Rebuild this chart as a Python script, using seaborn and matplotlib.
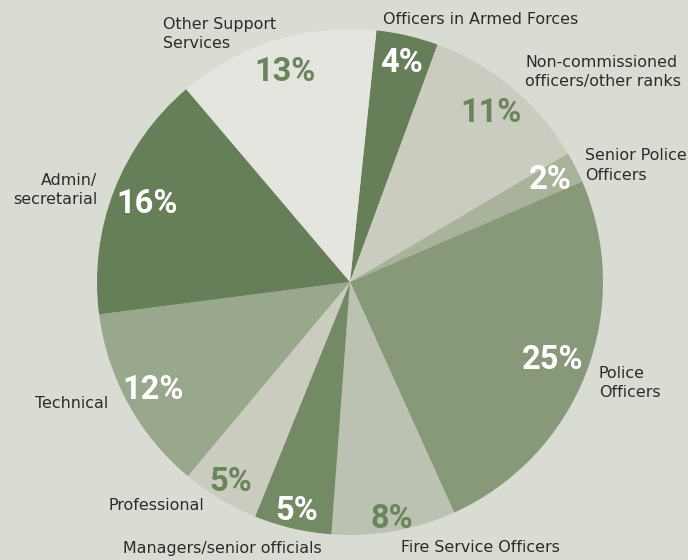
import matplotlib

matplotlib.use("Agg")
import matplotlib.pyplot as plt
import numpy as np
import seaborn as sns

# shares by occupation group (%), clockwise from 12 o'clock
categories = [
    "Officers in Armed Forces",
    "Non-commissioned\nofficers/other ranks",
    "Senior Police\nOfficers",
    "Police\nOfficers",
    "Fire Service Officers",
    "Managers/senior officials",
    "Professional",
    "Technical",
    "Admin/\nsecretarial",
    "Other Support\nServices",
]
shares = [4, 11, 2, 25, 8, 5, 5, 12, 16, 13]

slice_colors = ["#667f58", "#c9ccbe", "#a9b39b", "#879979", "#bcc2b1",
                "#738a65", "#c9ccbf", "#99a78c", "#667f58", "#e4e5df"]
pct_colors = ["white", "#6a845c", "white", "white", "#6a845c",
              "white", "#6a845c", "white", "white", "#6a845c"]
# radial position of the % label inside each slice
pct_radius = [0.89, 0.87, 0.89, 0.86, 0.95, 0.93, 0.92, 0.89, 0.86, 0.87]
# outer label anchors (x, y, ha) in pie units
label_pos = [
    (0.13, 1.036, "left"),
    (0.692, 0.83, "left"),
    (0.929, 0.462, "left"),
    (0.984, -0.399, "left"),
    (0.514, -1.051, "center"),
    (-0.506, -1.055, "center"),
    (-0.577, -0.885, "right"),
    (-0.957, -0.482, "right"),
    (-1.0, 0.364, "right"),
    (-0.739, 0.98, "left"),
]

BG = "#d9dcd3"
sns.set_theme(style="white")
plt.rcParams["font.family"] = ["DejaVu Sans"]

fig = plt.figure(figsize=(6.88, 5.6), dpi=100, facecolor=BG)
ax = fig.add_axes([0, 0, 1, 1])
ax.set_facecolor(BG)

wedges, _ = ax.pie(shares, colors=slice_colors, startangle=84, counterclock=False,
                   radius=1.0, wedgeprops=dict(linewidth=0))

for w, val, col, r in zip(wedges, shares, pct_colors, pct_radius):
    mid = np.deg2rad((w.theta1 + w.theta2) / 2)
    ax.text(r * np.cos(mid), r * np.sin(mid), f"{val}%", color=col,
            family=["Roboto", "DejaVu Sans"],
            fontsize=23.5, fontweight="bold", ha="center", va="center")

for name, (x, y, ha) in zip(categories, label_pos):
    ax.text(x, y, name, ha=ha, va="center", multialignment=ha,
            fontsize=11.4, color="#2b2b2b", linespacing=1.4)

ax.set_xlim(-350 / 253, 338 / 253)
ax.set_ylim(-278 / 253, 282 / 253)
ax.set_aspect("equal")
ax.axis("off")

fig.savefig("out.png", dpi=100, facecolor=BG)
